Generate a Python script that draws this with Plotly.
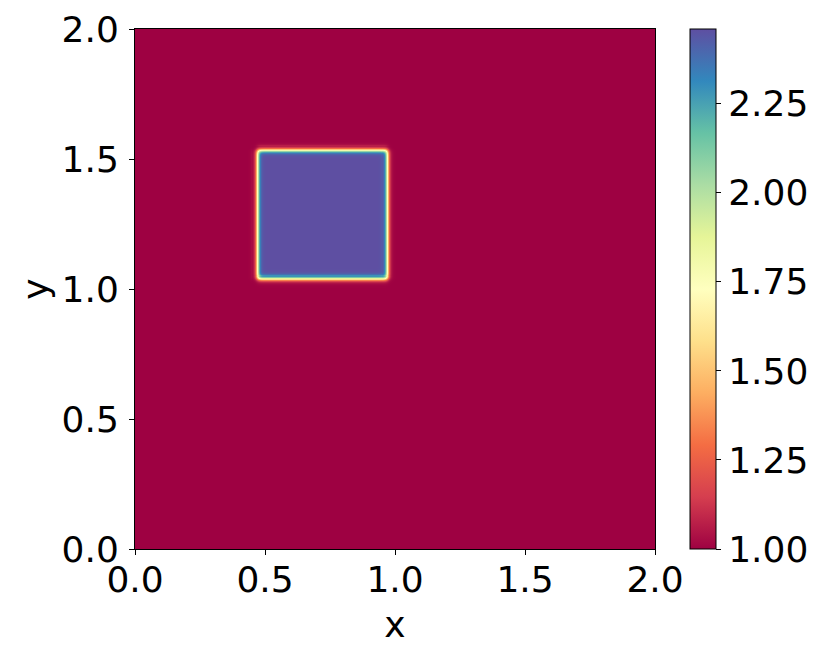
import numpy as np
import plotly.graph_objects as go

# --- chart values ---
x_extent = [0.0, 2.0]
y_extent = [0.0, 2.0]
square_x = [0.47, 0.97]        # left / right edge of the raised square
square_y = [1.04, 1.535]       # bottom / top edge of the raised square
field_levels = [1.0, 2.46]     # background value, square value
edge_width = 0.01              # smoothing width of the square's edges
n_cells = 500
axis_ticks = [0.0, 0.5, 1.0, 1.5, 2.0]
axis_ticktext = ["0.0", "0.5", "1.0", "1.5", "2.0"]
cbar_ticks = [1.0, 1.25, 1.5, 1.75, 2.0, 2.25]
cbar_ticktext = ["1.00", "1.25", "1.50", "1.75", "2.00", "2.25"]

# --- build field ---
dx = (x_extent[1] - x_extent[0]) / n_cells
dy = (y_extent[1] - y_extent[0]) / n_cells
xs = x_extent[0] + (np.arange(n_cells) + 0.5) * dx
ys = y_extent[0] + (np.arange(n_cells) + 0.5) * dy


def step(v, a, b, w):
    return 0.25 * (1 + np.tanh((v - a) / w)) * (1 + np.tanh((b - v) / w))


px = step(xs, square_x[0], square_x[1], edge_width)
py = step(ys, square_y[0], square_y[1], edge_width)
z = field_levels[0] + (field_levels[1] - field_levels[0]) * np.outer(py, px)

FONT = "DejaVu Sans"
FS = 36

fig = go.Figure(
    go.Heatmap(
        x=xs,
        y=ys,
        z=z,
        colorscale="Spectral",
        zmin=field_levels[0],
        zmax=field_levels[1],
        hoverinfo="skip",
        colorbar=dict(
            x=(690 - 135) / 520,
            xanchor="left",
            y=0,
            yanchor="bottom",
            len=1,
            lenmode="fraction",
            thickness=26,
            thicknessmode="pixels",
            outlinewidth=1,
            outlinecolor="black",
            ticks="outside",
            ticklen=5,
            tickwidth=1,
            tickcolor="black",
            tickvals=cbar_ticks,
            ticktext=cbar_ticktext,
            tickfont=dict(family=FONT, size=FS, color="black"),
            xpad=0,
            ypad=0,
        ),
    )
)

axis_common = dict(
    showgrid=False,
    zeroline=False,
    showline=True,
    mirror=True,
    linecolor="black",
    linewidth=1,
    ticks="outside",
    ticklen=5,
    tickwidth=1,
    tickcolor="black",
    tickvals=axis_ticks,
    ticktext=axis_ticktext,
    tickfont=dict(family=FONT, size=FS, color="black"),
    automargin=False,
)

fig.update_layout(
    width=823,
    height=652,
    margin=dict(l=127, r=176, t=21, b=111, autoexpand=False),
    paper_bgcolor="white",
    plot_bgcolor="white",
    font=dict(family=FONT, size=FS, color="black"),
    xaxis=dict(
        **axis_common,
        range=x_extent,
        ticklabelstandoff=-6,
        title=dict(text="x", font=dict(family=FONT, size=FS, color="black"), standoff=12),
    ),
    yaxis=dict(
        **axis_common,
        range=y_extent,
        ticklabelstandoff=3,
        title=dict(text="y", font=dict(family=FONT, size=FS, color="black"), standoff=1),
    ),
)

fig.write_html("out.html")
